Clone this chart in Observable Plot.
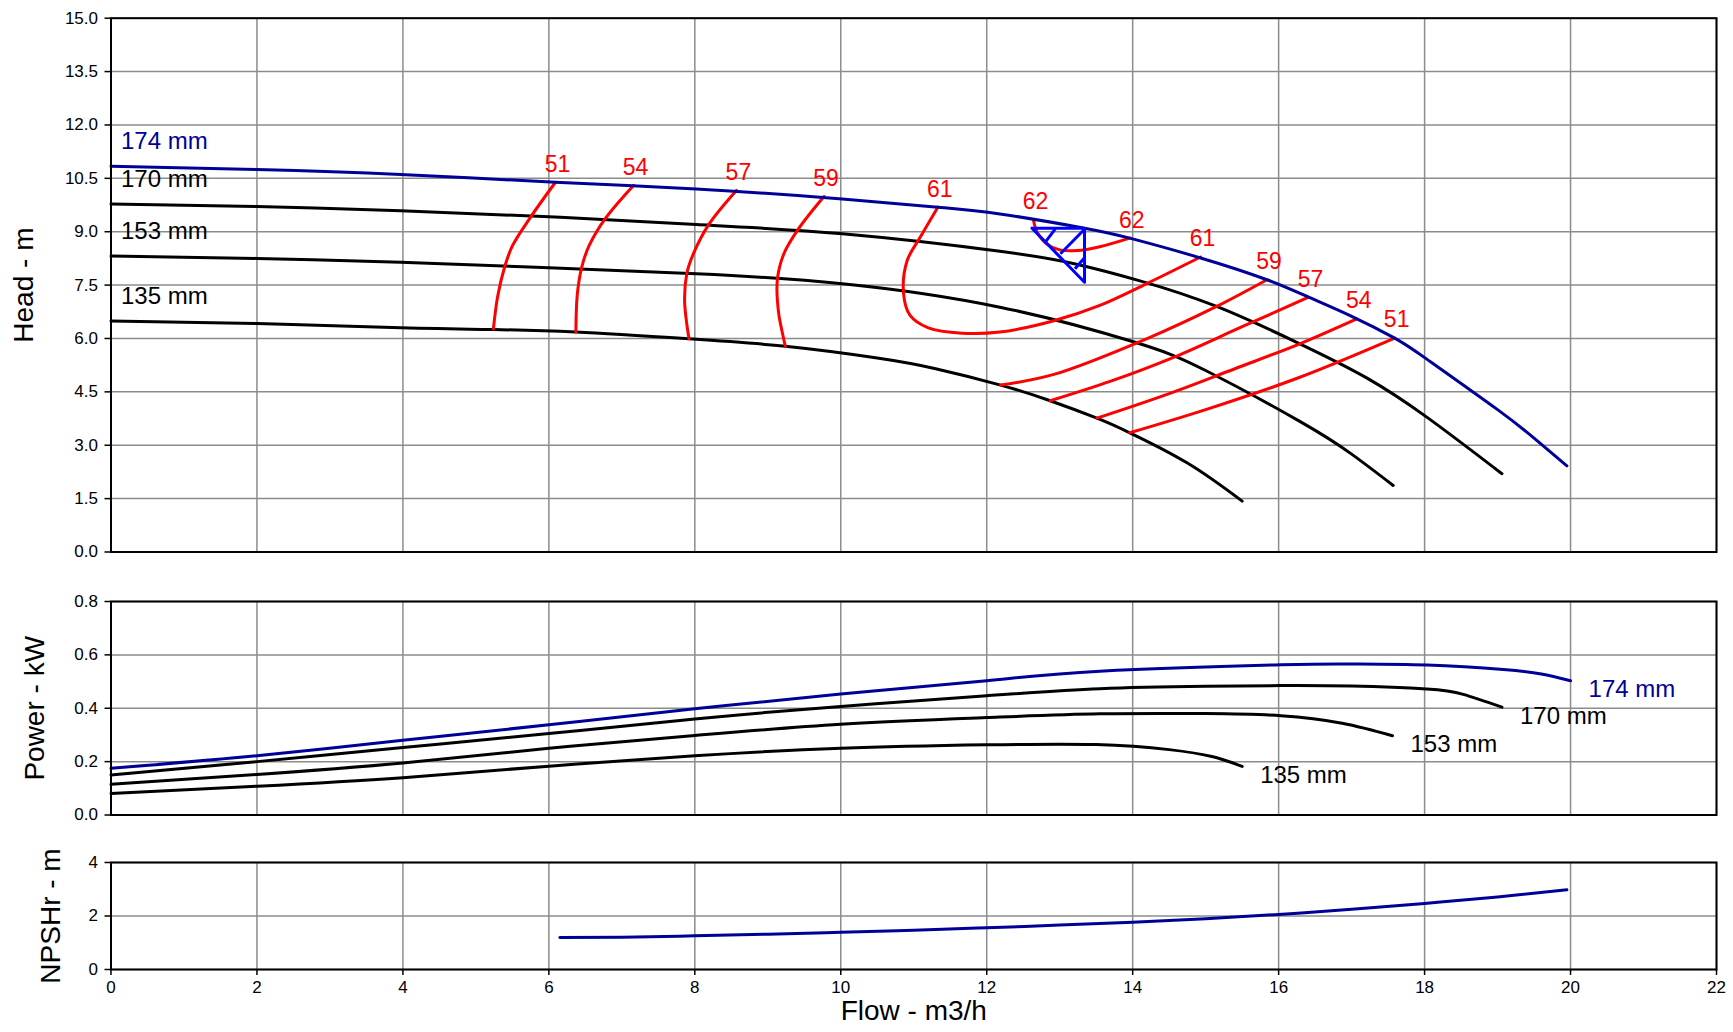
<!DOCTYPE html>
<html>
<head>
<meta charset="utf-8">
<script src="https://cdn.jsdelivr.net/npm/d3@7"></script>
<script src="https://cdn.jsdelivr.net/npm/@observablehq/plot@0.6"></script>
<style>
  body { margin: 0; background: #fff; width: 1733px; height: 1032px; overflow: hidden; position: relative; }
  .panel { position: absolute; left: 0; }
</style>
</head>
<body>
<div id="head" class="panel" style="top:0px"></div>
<div id="power" class="panel" style="top:590px"></div>
<div id="npsh" class="panel" style="top:850px"></div>
<script>
// ---------- DATA ----------
const flowTicks  = [0, 2, 4, 6, 8, 10, 12, 14, 16, 18, 20, 22];
const headTicks  = [0, 1.5, 3, 4.5, 6, 7.5, 9, 10.5, 12, 13.5, 15];
const powerTicks = [0, 0.2, 0.4, 0.6, 0.8];
const npshTicks  = [0, 2, 4];

const impellers = ["174 mm", "170 mm", "153 mm", "135 mm"];

// Head (Q m3/h, H m)
const head174 = [[0,10.84],[2,10.75],[3.97,10.61],[6.09,10.39],[8.02,10.2],[10.02,9.92],[11.33,9.69],[12.18,9.5],[13.34,9.1],[13.96,8.82],[14.92,8.27],[15.84,7.65],[16.41,7.16],[16.98,6.64],[17.59,6.01],[18.03,5.42],[19.0,4.0],[19.5,3.2],[19.95,2.42]];
const head170 = [[0,9.78],[2,9.71],[3.97,9.59],[6,9.42],[8.02,9.2],[10.02,8.94],[12.18,8.45],[13.2,8.1],[14.1,7.62],[15.15,6.9],[16.29,5.85],[17.2,4.9],[18.03,3.79],[19.06,2.2]];
const head153 = [[0,8.32],[2,8.25],[3.97,8.14],[6,7.99],[8.02,7.82],[10.02,7.54],[12.18,6.88],[14.02,5.9],[15,5.1],[16.29,3.67],[17,2.75],[17.57,1.87]];
const head135 = [[0,6.49],[2,6.42],[3.97,6.3],[5.24,6.25],[6.37,6.18],[7.92,5.99],[9.24,5.78],[10.5,5.45],[11.3,5.15],[12.19,4.69],[12.87,4.25],[13.51,3.76],[13.96,3.35],[14.75,2.5],[15.5,1.43]];

// Efficiency iso-lines (%), each starts at its labelled end on the 174 mm curve
const effValues = [51, 54, 57, 59, 61, 62, 59, 57, 54, 51];
const effBothEnds = [false, false, false, false, true, true, false, false, false, false];
const eff51L = [[6.09,10.39],[5.75,9.41],[5.5,8.6],[5.4,8.05],[5.3,7.2],[5.24,6.27]];
const eff54L = [[7.16,10.3],[6.77,9.36],[6.55,8.6],[6.45,8.0],[6.39,7.25],[6.37,6.18]];
const eff57L = [[8.57,10.16],[8.19,9.2],[7.98,8.38],[7.89,7.82],[7.86,7.07],[7.92,5.99]];
const eff59L = [[9.77,9.99],[9.42,9.08],[9.22,8.38],[9.13,7.63],[9.15,6.69],[9.24,5.78]];
const eff61  = [[11.33,9.69],[11.09,8.85],[10.91,8.19],[10.86,7.27],[10.95,6.65],[11.2,6.3],[11.66,6.15],[12.18,6.18],[12.92,6.5],[13.55,6.93],[14.2,7.55],[14.93,8.29]];
const eff62  = [[12.64,9.33],[12.69,8.99],[12.82,8.66],[13.0,8.49],[13.24,8.47],[13.55,8.58],[13.96,8.82]];
const eff59R = [[15.84,7.65],[15.15,6.9],[14.19,5.99],[12.92,4.99],[12.19,4.69]];
const eff57R = [[16.41,7.16],[15.5,6.33],[14.56,5.47],[13.7,4.8],[12.87,4.25]];
const eff54R = [[17.07,6.55],[16.29,5.85],[15.4,5.15],[14.5,4.45],[13.51,3.76]];
const eff51R = [[17.59,6.01],[16.29,4.91],[15.0,4.0],[13.96,3.35]];

// Duty point marker (triangle + hatching)
const dutyTriangle = [[12.62,9.1],[13.34,9.1],[13.34,7.58],[12.62,9.1]];
const dutyHatch = [[12.94,9.08,12.8,8.7],[13.33,9.05,13.01,8.38],[13.34,8.27,13.21,7.96]];

// Power (Q m3/h, P kW)
const power174 = [[0,0.175],[2,0.222],[4,0.28],[6,0.338],[8,0.398],[10,0.453],[12,0.503],[13.55,0.539],[16.03,0.563],[17,0.566],[18.03,0.562],[19.08,0.545],[19.6,0.528],[20.0,0.503]];
const power170 = [[0,0.15],[2,0.2],[4,0.253],[6,0.305],[8,0.36],[10,0.407],[12,0.447],[13.55,0.473],[15,0.482],[16.03,0.485],[17,0.483],[18.03,0.472],[18.53,0.452],[19.06,0.404]];
const power153 = [[0,0.115],[2,0.152],[4,0.195],[6,0.25],[8,0.298],[10,0.34],[12,0.365],[13.55,0.379],[15,0.38],[16.03,0.372],[16.87,0.344],[17.56,0.297]];
const power135 = [[0,0.081],[2,0.108],[4,0.14],[6,0.183],[8,0.222],[10,0.25],[12,0.263],[13.5,0.264],[14.5,0.245],[15.1,0.218],[15.5,0.182]];

// NPSHr (Q m3/h, m)
const npshr = [[6.15,1.2],[7,1.21],[8,1.26],[9,1.32],[10,1.39],[11,1.47],[12,1.56],[13,1.66],[14,1.77],[15,1.9],[16,2.06],[17,2.25],[18,2.47],[19,2.71],[19.95,2.98]];

// ---------- BUILD ----------
const W = 1733, ML = 110.5, MR = 17;
const FONT = '"Liberation Sans", Arial, Helvetica, sans-serif';
const NAVY = "#000099", RED = "#ff0000", BLUE = "#0000ff", GRID = "#8c8c8c";
const rows = (name, pts) => pts.map(([x, y]) => ({name, x, y}));
const style = {fontFamily: FONT, fontSize: "17px", color: "black", background: "white", overflow: "visible"};
const gridStyle = {stroke: GRID, strokeOpacity: 1, strokeWidth: 1.5};
const lineStyle = {x: "x", y: "y", z: "name", strokeWidth: 3, curve: "natural"};
const loopStyle = {x: "x", y: "y", z: "name", strokeWidth: 3, curve: "catmull-rom"};
const titleStyle = {text: d => d, frameAnchor: "left", textAnchor: "middle", rotate: -90, fontSize: 28, fill: "black"};

const headBlack = [...rows(impellers[1], head170), ...rows(impellers[2], head153), ...rows(impellers[3], head135)];
const headBlue = rows(impellers[0], head174);
const effCurves = [eff51L, eff54L, eff57L, eff59L, eff61, eff62, eff59R, eff57R, eff54R, eff51R];
const effRows = effCurves.flatMap((c, i) => rows("e" + i, c));
const effLabels = effCurves.flatMap((c, i) => {
  const out = [{x: c[0][0], y: c[0][1], t: String(effValues[i])}];
  if (effBothEnds[i]) out.push({x: c[c.length - 1][0], y: c[c.length - 1][1], t: String(effValues[i])});
  return out;
});
const headStarts = [head174, head170, head153, head135].map((c, i) => ({x: c[0][0], y: c[0][1], t: impellers[i]}));
const powerCurves = [power174, power170, power153, power135];
const powerEnds = powerCurves.map((c, i) => ({x: c[c.length - 1][0], y: c[c.length - 1][1], t: impellers[i]}));
const powerBlack = [...rows(impellers[1], power170), ...rows(impellers[2], power153), ...rows(impellers[3], power135)];
const triRows = rows("tri", dutyTriangle);
const hatchRows = dutyHatch.map(([x1, y1, x2, y2]) => ({x1, y1, x2, y2}));

const headPlot = Plot.plot({
  width: W, height: 560, marginLeft: ML, marginRight: MR, marginTop: 17.7, marginBottom: 8.5,
  style,
  x: {domain: [0, 22], axis: null},
  y: {domain: [0, 15]},
  marks: [
    Plot.gridX(flowTicks, gridStyle),
    Plot.gridY(headTicks, gridStyle),
    Plot.axisY(headTicks, {tickFormat: d3.format(".1f"), tickSize: 6, tickPadding: 7, label: null, strokeWidth: 1.5}),
    Plot.line(headBlack, {...lineStyle, stroke: "black"}),
    Plot.line(effRows, {...loopStyle, stroke: RED}),
    Plot.line(headBlue, {...lineStyle, stroke: NAVY}),
    Plot.line(triRows, {x: "x", y: "y", stroke: BLUE, strokeWidth: 3}),
    Plot.link(hatchRows, {x1: "x1", y1: "y1", x2: "x2", y2: "y2", stroke: BLUE, strokeWidth: 3}),
    Plot.text(headStarts.slice(0, 1), {x: "x", y: "y", text: "t", dx: 10, dy: -24.5, textAnchor: "start", fill: NAVY, fontSize: 24}),
    Plot.text(headStarts.slice(1), {x: "x", y: "y", text: "t", dx: 10, dy: -24.5, textAnchor: "start", fill: "black", fontSize: 24}),
    Plot.text(effLabels, {x: "x", y: "y", text: "t", dx: 2, dy: -18, fill: RED, fontSize: 23}),
    Plot.frame({stroke: "black", strokeWidth: 2}),
    Plot.text(["Head - m"], {...titleStyle, dx: -86.5})
  ]
});
document.getElementById("head").append(headPlot);

const powerPlot = Plot.plot({
  width: W, height: 235, marginLeft: ML, marginRight: MR, marginTop: 11, marginBottom: 10.5,
  style,
  x: {domain: [0, 22], axis: null},
  y: {domain: [0, 0.8]},
  marks: [
    Plot.gridX(flowTicks, gridStyle),
    Plot.gridY(powerTicks, gridStyle),
    Plot.axisY(powerTicks, {tickFormat: d3.format(".1f"), tickSize: 6, tickPadding: 7, label: null, strokeWidth: 1.5}),
    Plot.line(powerBlack, {...lineStyle, stroke: "black"}),
    Plot.line(rows(impellers[0], power174), {...lineStyle, stroke: NAVY}),
    Plot.text(powerEnds.slice(0, 1), {x: "x", y: "y", text: "t", dx: 18, dy: 9, textAnchor: "start", fill: NAVY, fontSize: 24}),
    Plot.text(powerEnds.slice(1), {x: "x", y: "y", text: "t", dx: 18, dy: 9, textAnchor: "start", fill: "black", fontSize: 24}),
    Plot.frame({stroke: "black", strokeWidth: 2}),
    Plot.text(["Power - kW"], {...titleStyle, dx: -75.5})
  ]
});
document.getElementById("power").append(powerPlot);

const npshPlot = Plot.plot({
  width: W, height: 182, marginLeft: ML, marginRight: MR, marginTop: 12, marginBottom: 63,
  style,
  x: {domain: [0, 22]},
  y: {domain: [0, 4]},
  marks: [
    Plot.gridX(flowTicks, gridStyle),
    Plot.gridY(npshTicks, gridStyle),
    Plot.axisY(npshTicks, {tickSize: 6, tickPadding: 7, label: null, strokeWidth: 1.5}),
    Plot.axisX(flowTicks, {tickSize: 6, tickPadding: 5, label: null, strokeWidth: 1.5}),
    Plot.line(rows("NPSHr", npshr), {...lineStyle, stroke: NAVY}),
    Plot.frame({stroke: "black", strokeWidth: 2}),
    Plot.text(["NPSHr - m"], {...titleStyle, dx: -60}),
    Plot.text(["Flow - m3/h"], {text: d => d, frameAnchor: "bottom", dy: 50, fontSize: 28, fill: "black"})
  ]
});
document.getElementById("npsh").append(npshPlot);
</script>
</body>
</html>
